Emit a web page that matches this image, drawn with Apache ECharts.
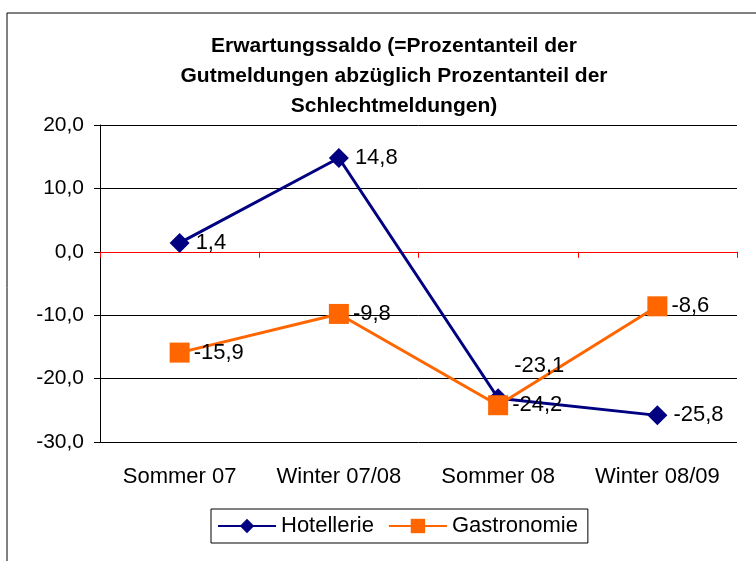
<!DOCTYPE html>
<html>
<head>
<meta charset="utf-8">
<script src="https://cdn.jsdelivr.net/npm/echarts@6/dist/echarts.min.js"></script>
<style>
  html, body { margin: 0; padding: 0; background: #fff; }
  #main { width: 756px; height: 561px; }
</style>
</head>
<body>
<div id="main"></div>
<script>
// Zeitraeume und Werte (Erwartungssaldo)
var perioden = ['Sommer 07', 'Winter 07/08', 'Sommer 08', 'Winter 08/09'];
var hotellerie = [1.4, 14.8, -23.1, -25.8];
var gastronomie = [-15.9, -9.8, -24.2, -8.6];
var yTicks = [-30, -20, -10, 0, 10, 20];

var fmt = function (v) { return v.toFixed(1).replace('.', ','); };
var FONT = 'Liberation Sans, Arial, sans-serif';

var mychart = echarts.init(document.getElementById('main'));

var hotelData = hotellerie.map(function (v, i) {
    var d = { value: v };
    // Label bei Sommer 08 sitzt oberhalb
    if (i === 2) d.label = { offset: [0, -32] };
    return d;
});

var option = {
    backgroundColor: '#fff',
    animation: false,
    title: {
        text: 'Erwartungssaldo (=Prozentanteil der\nGutmeldungen abzüglich Prozentanteil der\nSchlechtmeldungen)',
        left: 389,
        textAlign: 'center',
        top: 26,
        textStyle: { fontFamily: FONT, fontSize: 21, fontWeight: 'bold', color: '#000', lineHeight: 30 }
    },
    graphic: [{
        type: 'rect',
        shape: { x: 7, y: 13, width: 760, height: 560 },
        style: { fill: 'none', stroke: '#000', lineWidth: 1 },
        silent: true
    }],
    legend: {
        left: 211,
        top: 509,
        itemWidth: 58,
        itemHeight: 18,
        itemGap: 14,
        padding: [6, 10, 6, 6],
        borderColor: '#000',
        borderWidth: 1,
        textStyle: { fontFamily: FONT, fontSize: 22, color: '#000' },
        data: ['Hotellerie', 'Gastronomie']
    },
    grid: { left: 100, right: 19, top: 125, bottom: 119 },
    xAxis: [{
        type: 'category',
        data: perioden,
        boundaryGap: true,
        axisLine: { onZero: true, lineStyle: { color: '#ff0000', width: 1 } },
        axisTick: { show: true, inside: false, length: 6, lineStyle: { color: '#ff0000' } },
        axisLabel: { show: false }
    }, {
        type: 'category',
        data: perioden,
        position: 'bottom',
        axisLine: { show: false },
        axisTick: { show: false },
        axisLabel: { fontFamily: FONT, fontSize: 22, color: '#000', margin: 24, interval: 0 }
    }],
    yAxis: {
        type: 'value',
        min: yTicks[0],
        max: yTicks[yTicks.length - 1],
        interval: 10,
        axisLine: { show: true, lineStyle: { color: '#000' } },
        axisTick: { show: true, length: 6, lineStyle: { color: '#000' } },
        axisLabel: { fontFamily: FONT, fontSize: 21, color: '#000', margin: 16, formatter: fmt },
        splitLine: { show: true, lineStyle: { color: '#000', width: 1 } }
    },
    series: [{
        name: 'Hotellerie',
        type: 'line',
        data: hotelData,
        symbol: 'diamond',
        symbolSize: 20,
        itemStyle: { color: '#000080' },
        lineStyle: { color: '#000080', width: 3 },
        label: {
            show: true, position: 'right', distance: 6,
            fontFamily: FONT, fontSize: 22, color: '#000',
            formatter: function (p) { return fmt(p.value); }
        }
    }, {
        name: 'Gastronomie',
        type: 'line',
        data: gastronomie,
        symbol: 'rect',
        symbolSize: 20,
        itemStyle: { color: '#ff6600' },
        lineStyle: { color: '#ff6600', width: 3 },
        label: {
            show: true, position: 'right', distance: 4,
            fontFamily: FONT, fontSize: 22, color: '#000',
            formatter: function (p) { return fmt(p.value); }
        }
    }]
};

option && mychart.setOption(option);
</script>
</body>
</html>
